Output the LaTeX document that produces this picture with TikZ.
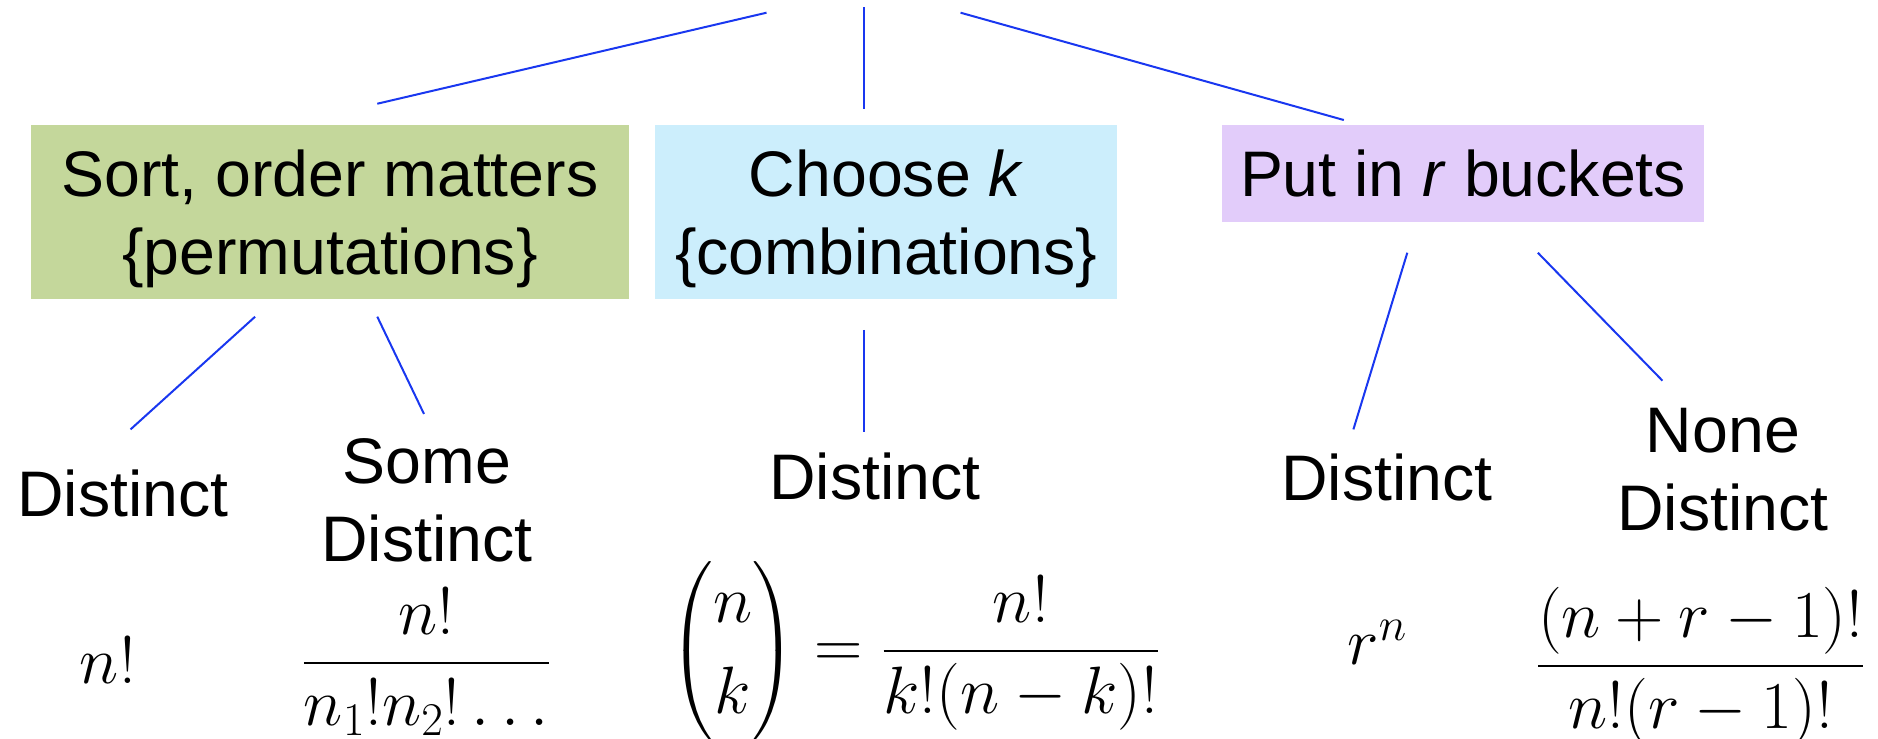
\RequirePackage{fix-cm}
\documentclass[tikz,border=0pt]{standalone}
\usepackage{amsmath}
\usepackage[no-math]{fontspec}
\setmainfont{Liberation Sans}
\definecolor{boxgreen}{RGB}{196,215,155}
\definecolor{boxblue}{RGB}{204,238,252}
\definecolor{boxpurple}{RGB}{226,204,250}
\definecolor{linkblue}{RGB}{25,55,240}
\begin{document}
\begin{tikzpicture}[x=0.5989pt,y=-0.5989pt,
  every node/.style={inner sep=0pt, font=\fontsize{32.2}{39}\selectfont},
  catbox/.style={align=center, minimum height=87.4pt},
  link/.style={draw=linkblue, line width=1pt},
  lbl/.style={anchor=base, align=center},
  formula/.style={anchor=base, font=\fontsize{33.5}{40}\selectfont}]
\useasboundingbox (0,0) rectangle (1568,617);

% category boxes
\node[catbox, fill=boxgreen, minimum width=298.9pt] (perm) at (275.5,177)
  {\rule{0pt}{30.4pt}Sort, order matters\\\{permutations\}};
\node[catbox, fill=boxblue, minimum width=231.2pt] (comb) at (740,177)
  {\rule{0pt}{30.4pt}Choose \textit{k}\\\{combinations\}};
\node[fill=boxpurple, minimum width=241.4pt, minimum height=48.5pt] (buck) at (1221.5,144.75)
  {Put in \textit{r} buckets};

% top connectors
\coordinate (t1) at (640,10.6);  \coordinate (e1) at (315,86.6);
\coordinate (t2) at (721,6.1);   \coordinate (e2) at (721,90.7);
\coordinate (t3) at (802,10.6);  \coordinate (e3) at (1122,100.2);
\draw[link] (t1) -- (e1);
\draw[link] (t2) -- (e2);
\draw[link] (t3) -- (e3);

% lower connectors
\coordinate (a1) at (213,264.4); \coordinate (b1) at (109,358.5);
\coordinate (a2) at (315,264.4); \coordinate (b2) at (354,345.6);
\coordinate (a3) at (721,275.5); \coordinate (b3) at (721,360.4);
\coordinate (a4) at (1175,211);  \coordinate (b4) at (1130,358.5);
\coordinate (a5) at (1284,211);  \coordinate (b5) at (1388,317.8);
\draw[link] (a1) -- (b1);
\draw[link] (a2) -- (b2);
\draw[link] (a3) -- (b3);
\draw[link] (a4) -- (b4);
\draw[link] (a5) -- (b5);

% labels (base = baseline of the last line)
\node[lbl] (d1) at (102.5,431) {Distinct};
\node[lbl] (d2) at (356.5,469) {Some\\Distinct};
\node[lbl] (d3) at (730.5,417) {Distinct};
\node[lbl] (d4) at (1158,417.5) {Distinct};
\node[lbl] (d5) at (1438.5,442.5) {None\\Distinct};

% formulas
\node[formula] (f1) at (90,570.5) {$n!$};
\node[formula] (f2) at (356,567.6) {$\displaystyle\frac{n!}{n_1!n_2!\ldots}$};
\node[formula] (f3) at (764,557.5) {$\displaystyle\binom{n}{k}=\frac{n!}{k!(n-k)!}$};
\node[formula] (f4) at (1150,555) {$r^n$};
\node[formula] (f5) at (1420,569.8) {$\displaystyle\frac{(n+r-1)!}{n!(r-1)!}$};
\end{tikzpicture}
\end{document}
